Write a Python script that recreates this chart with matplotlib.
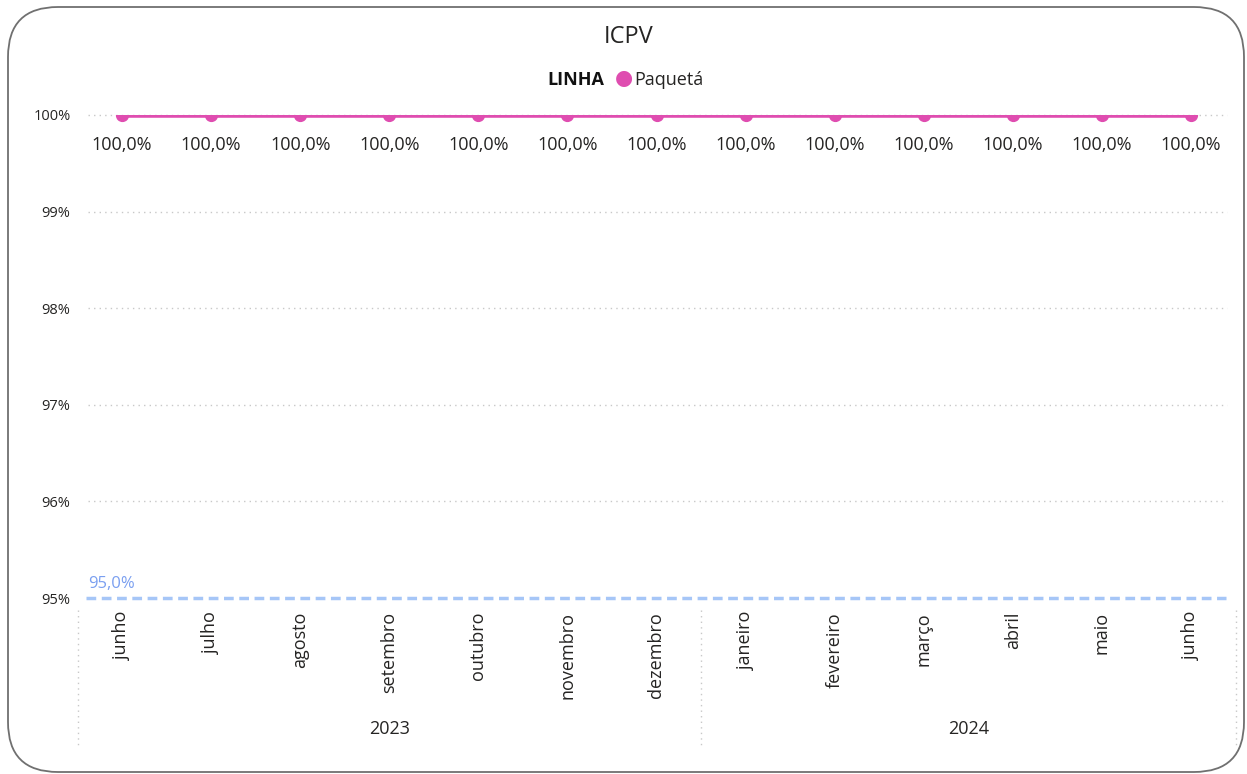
import matplotlib
matplotlib.use("Agg")
from matplotlib import pyplot as plt
from matplotlib.patches import FancyBboxPatch

# data
meses = ['junho', 'julho', 'agosto', 'setembro', 'outubro', 'novembro', 'dezembro',
         'janeiro', 'fevereiro', 'março', 'abril', 'maio', 'junho']
anos = ['2023', '2024']
meses_por_ano = [7, 6]
icpv = [100.0] * 13
meta = 95.0
yticks = [95, 96, 97, 98, 99, 100]

W, H = 1247, 774
fig = plt.figure(figsize=(W / 100, H / 100), dpi=100)
plt.rcParams['font.family'] = ['Open Sans', 'DejaVu Sans']
txt = '#252423'

# rounded frame round the visual
frame = FancyBboxPatch((8 / W, 2 / H), 1236 / W, 765 / H,
                       boxstyle="round,pad=0,rounding_size=0.04",
                       transform=fig.transFigure, facecolor='none',
                       edgecolor='#707070', linewidth=1.3, mutation_aspect=W / H,
                       zorder=-1)
fig.patches.append(frame)

left, right = 77.5 / W, 1235.5 / W
bottom, top = 1 - 598 / H, 1 - 115 / H
ax = fig.add_axes([left, bottom, right - left, top - bottom])
ax.set_facecolor('none')
ax.set_xlim(-0.5, len(meses) - 0.5)
ax.set_ylim(95, 100)
for s in ax.spines.values():
    s.set_visible(False)

# grid
for y in yticks[1:]:
    ax.axhline(y, xmin=0.009, xmax=0.993, color='#c8c8c8', linestyle=(0, (1, 3)),
               linewidth=1, clip_on=False, zorder=1)
ax.axhline(meta, xmin=0.007, xmax=0.992, color='#a6c6f7', linestyle=(0, (2.8, 1.6)),
           linewidth=2.5, zorder=2, clip_on=False)
ax.text(-0.38, meta + 0.06, '95,0%', color='#7a9ff0', fontsize=12, va='bottom', ha='left')

x = list(range(len(meses)))
ax.plot(x, icpv, color='#df4db0', linewidth=4, marker='o', markersize=8.5,
        clip_on=True, zorder=3)
for xi, v in zip(x, icpv):
    ax.text(xi, v - 0.22, f'{v:.1f}%'.replace('.', ','), ha='center', va='top',
            fontsize=13, color=txt)

ax.set_yticks(yticks)
ax.set_yticklabels([f'{y}%' for y in yticks], fontsize=10.5, color=txt)
ax.tick_params(axis='y', length=0, pad=5)
ax.set_xticks(x)
ax.set_xticklabels(meses, rotation=90, fontsize=13, color=txt, va='top')
ax.tick_params(axis='x', length=0, pad=10)

# year separators and labels
sep_tr = ax.get_xaxis_transform()
bounds = [-0.5]
for n in meses_por_ano:
    bounds.append(bounds[-1] + n)
for b in bounds:
    ax.plot([b, b], [-12 / 483, -147 / 483], transform=sep_tr, clip_on=False,
            color='#c8c8c8', linestyle=(0, (1, 3)), linewidth=1)
for i, ano in enumerate(anos):
    mid = (bounds[i] + bounds[i + 1]) / 2
    ax.text(mid, -131 / 483, ano, transform=sep_tr, ha='center', va='center',
            fontsize=13, color=txt)

fig.text(629 / W, 1 - 37 / H, 'ICPV', ha='center', va='center', fontsize=17, color=txt)
fig.text(604 / W, 1 - 80 / H, 'LINHA', ha='right', va='center', fontsize=13,
         fontweight='bold', color='#111111')
fig.text(624 / W, 1 - 78 / H, '●', ha='center', va='center', fontsize=15, color='#df4db0',
         family=['DejaVu Sans'])
fig.text(634 / W, 1 - 80 / H, 'Paquetá', ha='left', va='center', fontsize=13, color=txt)

fig.savefig('out.png', dpi=100)
